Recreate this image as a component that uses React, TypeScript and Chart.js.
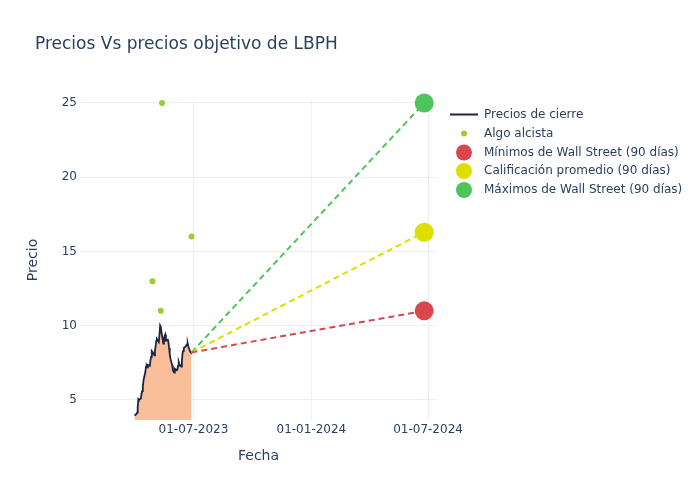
import React, { useEffect, useRef } from "react";
import { Chart, registerables } from "chart.js";

Chart.register(...registerables);

const TITLE = "Precios Vs precios objetivo de LBPH";
const X_TITLE = "Fecha";
const Y_TITLE = "Precio";

// First trading day of the closing-price series; later days are consecutive weekdays
const PRICE_START = "2023-03-31";
const closePrices = [
  3.95,
  4.05, 4.15, 4.5, 5.05, 5.0,
  5.1, 5.4, 5.6, 5.9, 6.3,
  6.9, 7.25, 7.3, 7.2, 7.35,
  7.3, 7.7, 7.9, 8.3, 8.25,
  8.0, 8.35, 8.6, 9.0, 9.1,
  8.9, 9.4, 10.0, 9.9, 9.6,
  8.8, 9.1, 9.3, 9.4, 9.0,
  9.05, 8.9, 8.5, 8.1, 7.8,
  7.3, 7.0, 6.9, 6.85, 7.1,
  7.0, 7.05, 7.3, 7.55, 7.4,
  7.25, 7.6, 8.15, 8.3, 8.5,
  8.6, 8.7, 8.75, 8.8, 8.6,
  8.25, 8.2, 8.2,
];

const bullishDates = ["2023-04-28", "2023-05-11", "2023-05-13", "2023-06-28"];
const bullishValues = [13, 11, 25, 16];

const targetDate = "2024-06-25";
const targetLow = 11;
const targetAvg = 16.3;
const targetHigh = 25;

const xTickDates = ["2023-07-01", "2024-01-01", "2024-07-01"];
const xRange = ["2023-01-05", "2024-07-15"];
const yRange = [3.65, 25.2];
const yStep = 5;

const legendLabels = [
  "Precios de cierre",
  "Algo alcista",
  "Mínimos de Wall Street (90 días)",
  "Calificación promedio (90 días)",
  "Máximos de Wall Street (90 días)",
];

const COLORS = {
  text: "#2a3f5f",
  grid: "#EBF0F8",
  line: "#1c2541",
  fill: "#F9BF9B",
  bullish: "#9ACD32",
  low: "#D9464E",
  avg: "#DEDE00",
  high: "#4DC55A",
};

const FONT = "'DejaVu Sans', Verdana, sans-serif";

const ts = (s: string) => {
  const [y, m, d] = s.split("-").map(Number);
  return Date.UTC(y, m - 1, d);
};

function tradingDays(start: string, n: number): number[] {
  const out: number[] = [];
  let t = ts(start);
  while (out.length < n) {
    const wd = new Date(t).getUTCDay();
    if (wd !== 0 && wd !== 6) out.push(t);
    t += 86400000;
  }
  return out;
}

const fmt = (v: number) => {
  const d = new Date(v);
  const dd = String(d.getUTCDate()).padStart(2, "0");
  const mm = String(d.getUTCMonth() + 1).padStart(2, "0");
  return `${dd}-${mm}-${d.getUTCFullYear()}`;
};

export default function App() {
  const ref = useRef<HTMLCanvasElement | null>(null);

  useEffect(() => {
    if (!ref.current) return;
    const dates = tradingDays(PRICE_START, closePrices.length);
    const lastX = dates[dates.length - 1];
    const lastY = closePrices[closePrices.length - 1];
    const tX = ts(targetDate);

    const targetSets = [
      { label: legendLabels[2], v: targetLow, c: COLORS.low },
      { label: legendLabels[3], v: targetAvg, c: COLORS.avg },
      { label: legendLabels[4], v: targetHigh, c: COLORS.high },
    ];

    const datasets: any[] = [];
    targetSets.forEach((t) => {
      datasets.push({
        type: "scatter",
        label: t.label,
        data: [{ x: tX, y: t.v }],
        pointRadius: 9.5,
        pointBackgroundColor: t.c,
        pointBorderWidth: 0,
        clip: false,
        order: 0,
      });
    });
    datasets.push({
      type: "scatter",
      label: legendLabels[1],
      data: bullishDates.map((d, i) => ({ x: ts(d), y: bullishValues[i] })),
      pointRadius: 3,
      pointBackgroundColor: COLORS.bullish,
      pointBorderWidth: 0,
      clip: false,
      order: 1,
    });
    targetSets.forEach((t) => {
      datasets.push({
        type: "line",
        label: t.label + " línea",
        data: [
          { x: lastX, y: lastY },
          { x: tX, y: t.v },
        ],
        borderColor: t.c,
        borderWidth: 2,
        borderDash: [6, 4],
        pointRadius: 0,
        fill: false,
        clip: false,
        order: 2,
      });
    });
    datasets.push({
      type: "line",
      label: legendLabels[0],
      data: dates.map((d, i) => ({ x: d, y: closePrices[i] })),
      borderColor: COLORS.line,
      borderWidth: 1.8,
      backgroundColor: COLORS.fill,
      fill: "origin",
      pointRadius: 0,
      tension: 0,
      order: 3,
    });

    const overlay = {
      id: "overlay",
      afterDraw(chart: any) {
        const ctx = chart.ctx;
        ctx.save();
        ctx.fillStyle = COLORS.text;
        ctx.textBaseline = "middle";
        ctx.textAlign = "left";
        ctx.font = `17px ${FONT}`;
        ctx.fillText(TITLE, 35, 45);

        ctx.font = `12px ${FONT}`;
        const lx = 464;
        const rows = [114.5, 133.5, 152.5, 171, 190];
        ctx.strokeStyle = COLORS.line;
        ctx.lineWidth = 2;
        ctx.beginPath();
        ctx.moveTo(450, rows[0]);
        ctx.lineTo(478, rows[0]);
        ctx.stroke();
        const marks = [
          null,
          { r: 3, c: COLORS.bullish },
          { r: 8, c: COLORS.low },
          { r: 8, c: COLORS.avg },
          { r: 8, c: COLORS.high },
        ];
        rows.forEach((y, i) => {
          const m = marks[i];
          if (m) {
            ctx.fillStyle = m.c;
            ctx.beginPath();
            ctx.arc(lx, y, m.r, 0, Math.PI * 2);
            ctx.fill();
          }
          ctx.fillStyle = COLORS.text;
          ctx.fillText(legendLabels[i], 484, y);
        });
        ctx.restore();
      },
    };

    const chart = new Chart(ref.current, {
      type: "line",
      data: { datasets },
      options: {
        animation: false,
        responsive: false,
        devicePixelRatio: 1,
        layout: { padding: { left: 0, right: 263, top: 100, bottom: 0 } },
        plugins: { legend: { display: false }, tooltip: { enabled: false } },
        scales: {
          x: {
            type: "linear",
            min: ts(xRange[0]),
            max: ts(xRange[1]),
            afterBuildTicks: (s: any) => {
              s.ticks = xTickDates.map((d) => ({ value: ts(d) }));
            },
            afterFit: (s: any) => {
              s.height = 80;
            },
            ticks: {
              callback: (v: any) => fmt(Number(v)),
              color: COLORS.text,
              font: { family: FONT, size: 12 },
              padding: 3,
              maxRotation: 0,
              autoSkip: false,
            },
            grid: { color: COLORS.grid, drawTicks: false, lineWidth: 1 },
            border: { display: false },
            title: {
              display: true,
              text: X_TITLE,
              color: COLORS.text,
              font: { family: FONT, size: 14 },
              padding: { top: 0, bottom: 35 },
            },
          },
          y: {
            type: "linear",
            min: yRange[0],
            max: yRange[1],
            afterFit: (s: any) => {
              s.width = 80;
            },
            ticks: {
              stepSize: yStep,
              includeBounds: false,
              color: COLORS.text,
              font: { family: FONT, size: 12 },
              padding: 3,
            },
            grid: { color: COLORS.grid, drawTicks: false, lineWidth: 1 },
            border: { display: false },
            title: {
              display: true,
              text: Y_TITLE,
              color: COLORS.text,
              font: { family: FONT, size: 14 },
              padding: { top: 25, bottom: 0 },
            },
          },
        },
      },
      plugins: [overlay],
    } as any);
    return () => chart.destroy();
  }, []);

  return (
    <div style={{ position: "fixed", left: 0, top: 0, width: 700, height: 500, background: "#fff" }}>
      <canvas ref={ref} width={700} height={500} style={{ width: 700, height: 500 }} />
    </div>
  );
}
